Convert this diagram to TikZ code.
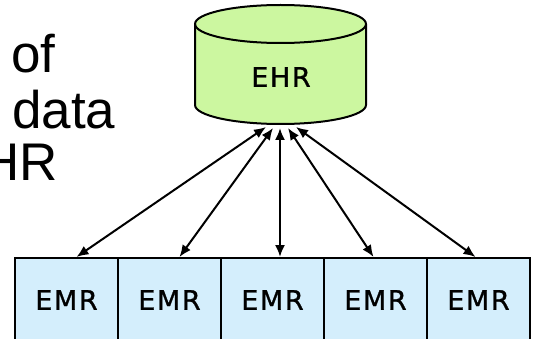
\documentclass[tikz,border=0pt]{standalone}
\usepackage{fontspec}
\setmainfont{Liberation Sans}
\newfontfamily\labelfont[LetterSpace=6,FakeBold=1]{DejaVu Sans}
\usetikzlibrary{arrows.meta,calc}
\definecolor{dbgreen}{RGB}{204,247,160}
\definecolor{recblue}{RGB}{212,238,252}
\tikzset{
  x=1pt, y=1pt,
  bigtext/.style={font=\fontsize{53}{53}\selectfont, inner sep=0pt, anchor=base west},
  recbox/.style={draw=black, line width=2pt, fill=recblue, minimum width=103pt,
    minimum height=84pt, inner sep=0pt, anchor=north,
    font=\labelfont\fontsize{27}{27}\selectfont},
  dbshape/.style={draw=black, line width=2pt, fill=dbgreen},
  link/.style={line width=2pt, {Latex[length=12pt,width=10pt]}-{Latex[length=12pt,width=10pt]}},
}
\begin{document}
\begin{tikzpicture}
\useasboundingbox (0,0) rectangle (533,338);
\clip (0,0) rectangle (533,338);

% heading text, running in from the left edge
\node[bigtext] (t1) at (11,265) {of};
\node[bigtext] (t2) at (12,209) {data};
\node[bigtext] (t3) at (-19,158) {HR};

% EHR database cylinder
\draw[dbshape] (195,314) -- (195,233)
  arc[start angle=180, end angle=360, x radius=85.5, y radius=19]
  -- (366,314)
  arc[start angle=0, end angle=180, x radius=85.5, y radius=19] -- cycle;
\draw[line width=2pt] (195,314)
  arc[start angle=180, end angle=360, x radius=85.5, y radius=19];
\node[font=\labelfont\fontsize{27}{27}\selectfont, inner sep=0pt] (ehr) at (281,261) {EHR};

% link ends under the cylinder
\coordinate (c1) at (266,211);
\coordinate (c2) at (273,210);
\coordinate (c3) at (280,210);
\coordinate (c4) at (288,210);
\coordinate (c5) at (296,211);

% row of EMR records
\node[recbox] (e1) at (66.5,81) {EMR};
\node[recbox] (e2) at (169.5,81) {EMR};
\node[recbox] (e3) at (272.5,81) {EMR};
\node[recbox] (e4) at (375.5,81) {EMR};
\node[recbox] (e5) at (478.5,81) {EMR};

% two-way links between the EHR and each EMR
\draw[link] (c1) -- ($(e1.north)+(10,0)$);
\draw[link] (c2) -- ($(e2.north)+(10,0)$);
\draw[link] (c3) -- ($(e3.north)+(7.5,0)$);
\draw[link] (c4) -- ($(e4.north)+(-2,0)$);
\draw[link] (c5) -- ($(e5.north)+(-3,0)$);
\end{tikzpicture}
\end{document}
